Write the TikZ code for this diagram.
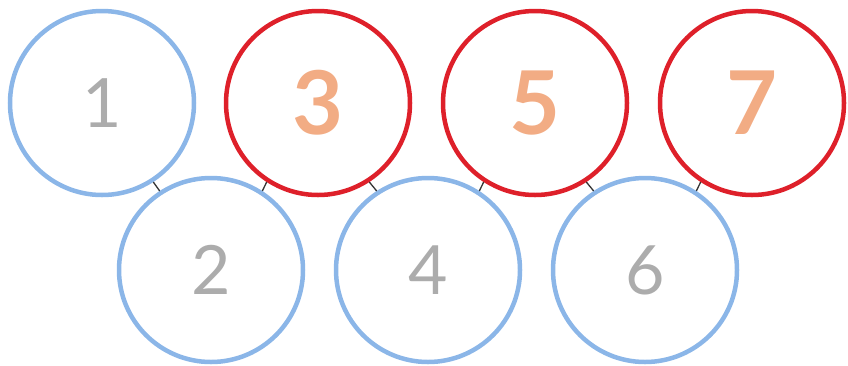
\documentclass[tikz,border=0pt]{standalone}
\usepackage{fontspec}
\setmainfont{Lato}
\usepackage{tikz}
\usetikzlibrary{calc,positioning}
\definecolor{ringblue}{RGB}{139,182,232}
\definecolor{ringred}{RGB}{222,32,42}
\definecolor{numgray}{RGB}{172,172,172}
\definecolor{numorange}{RGB}{242,172,132}

\begin{document}
\begin{tikzpicture}[x=1pt,y=-1pt,
    evenring/.style={circle, draw=ringblue, line width=4.5pt, minimum size=184pt, inner sep=0pt},
    oddring/.style={circle, draw=ringred, line width=4.5pt, minimum size=184pt, inner sep=0pt},
    graynum/.style={text=numgray, font=\fontsize{68}{68}\selectfont},
    orangenum/.style={text=numorange, font=\fontsize{88}{88}\selectfont\bfseries},
    link/.style={draw=black!80, line width=1.3pt}]
        % Fix the canvas
        \useasboundingbox (0,0) rectangle (848,365);

        % Top row
        \node[evenring, graynum] (n1) at (102,103) {1};
        \node[oddring, orangenum] (n3) at (318,103) {3};
        \node[oddring, orangenum] (n5) at (535,103) {5};
        \node[oddring, orangenum] (n7) at (752,103) {7};

        % Bottom row
        \node[evenring, graynum] (n2) at (211,270) {2};
        \node[evenring, graynum] (n4) at (428,270) {4};
        \node[evenring, graynum] (n6) at (645,270) {6};

        % Short links between neighbours
        \foreach \a/\b in {n1/n2, n3/n4, n5/n6}
            \draw[link] (\a.-57) -- (\b.123);
        \foreach \a/\b in {n2/n3, n4/n5, n6/n7}
            \draw[link] (\a.57) -- (\b.-123);
    \end{tikzpicture}
\end{document}
